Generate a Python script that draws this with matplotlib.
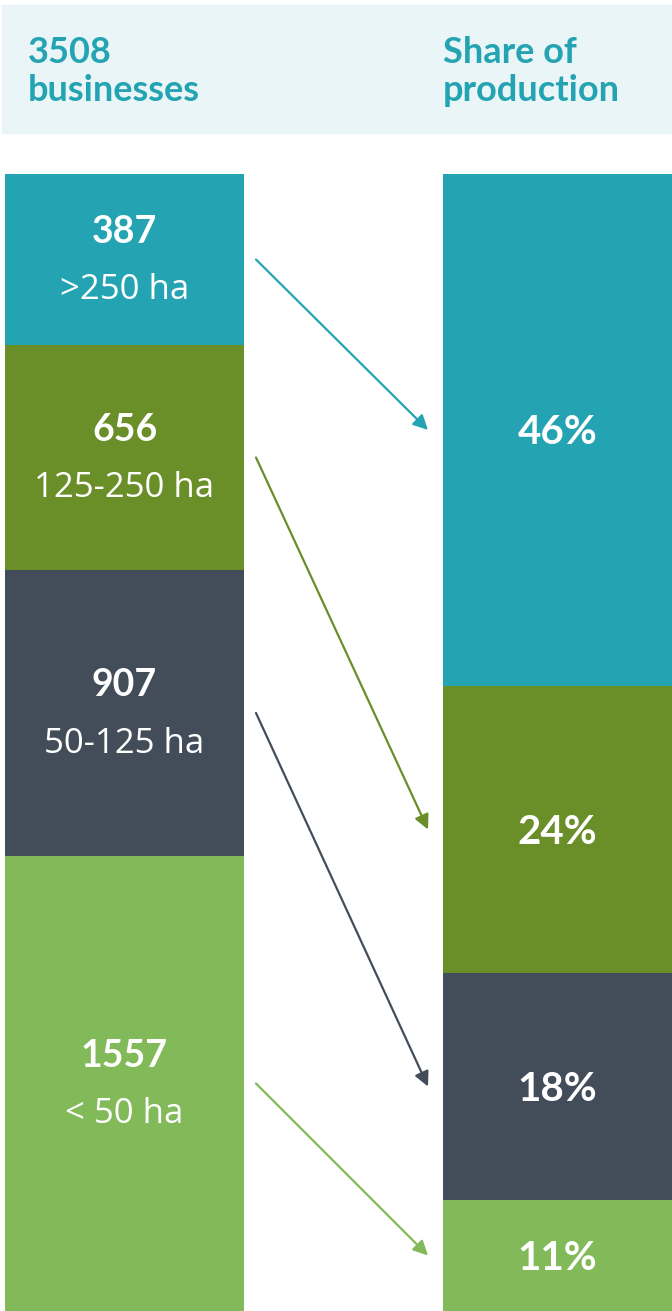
import matplotlib
matplotlib.use("Agg")
import matplotlib.pyplot as plt
from matplotlib.patches import Rectangle

# ---- data ----
categories = [">250 ha", "125-250 ha", "50-125 ha", "< 50 ha"]
business_counts = [387, 656, 907, 1557]
production_share = ["46%", "24%", "18%", "11%"]
# visual segment sizes as drawn in the reference (relative units)
left_sizes = [171, 225, 286, 455]
right_sizes = [512, 287, 227, 111]
colors = ["#24a4b2", "#6a8e28", "#434d5a", "#82b959"]
header_left = ["3508", "businesses"]
header_right = ["Share of", "production"]

W, H = 672, 1311
fig = plt.figure(figsize=(W / 100, H / 100), dpi=100)
fig.patch.set_facecolor("white")

# header band
fig.patches.append(Rectangle((2 / W, 1 - 133 / H), 670 / W, 128 / H,
                             transform=fig.transFigure, color="#e9f5f7", zorder=0))
head_color = "#24a4b2"
bold_font = dict(family=["Lato", "DejaVu Sans"], weight="bold")
reg_font = dict(family=["Open Sans", "DejaVu Sans"])
for i, (l, r) in enumerate(zip(header_left, header_right)):
    yb = 1 - (63 + 38 * i) / H
    fig.text(28 / W, yb, l, color=head_color, fontsize=26, va="baseline", ha="left", **bold_font)
    fig.text(443 / W, yb, r, color=head_color, fontsize=26, va="baseline", ha="left", **bold_font)

total = sum(left_sizes)
ax = fig.add_axes([0, 0, 1, 1137 / H])
ax.set_xlim(0, W)
ax.set_ylim(total, 0)
ax.axis("off")

lx, lw_ = 124.5, 239
rx, rw = 557.5, 229

lb = 0
rb = 0
left_mids, right_mids = [], []
for i in range(4):
    ax.bar(lx, left_sizes[i], bottom=lb, width=lw_, color=colors[i], linewidth=0)
    ax.bar(rx, right_sizes[i], bottom=rb, width=rw, color=colors[i], linewidth=0)
    lm = lb + left_sizes[i] / 2
    rm = rb + right_sizes[i] / 2
    left_mids.append(lm)
    right_mids.append(rm)
    ax.annotate(str(business_counts[i]), xy=(lx, lm), xytext=(0, 20), textcoords="offset points",
                ha="center", va="center", color="white", fontsize=27, **bold_font)
    ax.annotate(categories[i], xy=(lx, lm), xytext=(0, -22), textcoords="offset points",
                ha="center", va="center", color="white", fontsize=25, **reg_font)
    ax.annotate(production_share[i], xy=(rx, rm), xytext=(0, -2), textcoords="offset points",
                ha="center", va="center", color="white", fontsize=29, **bold_font)
    lb += left_sizes[i]
    rb += right_sizes[i]

for i in range(4):
    ax.annotate("", xy=(428, right_mids[i]), xytext=(256, left_mids[i]),
                arrowprops=dict(arrowstyle="-|>", color=colors[i], lw=1.6,
                                mutation_scale=22, shrinkA=0, shrinkB=0))

fig.savefig("out.png", dpi=100)
